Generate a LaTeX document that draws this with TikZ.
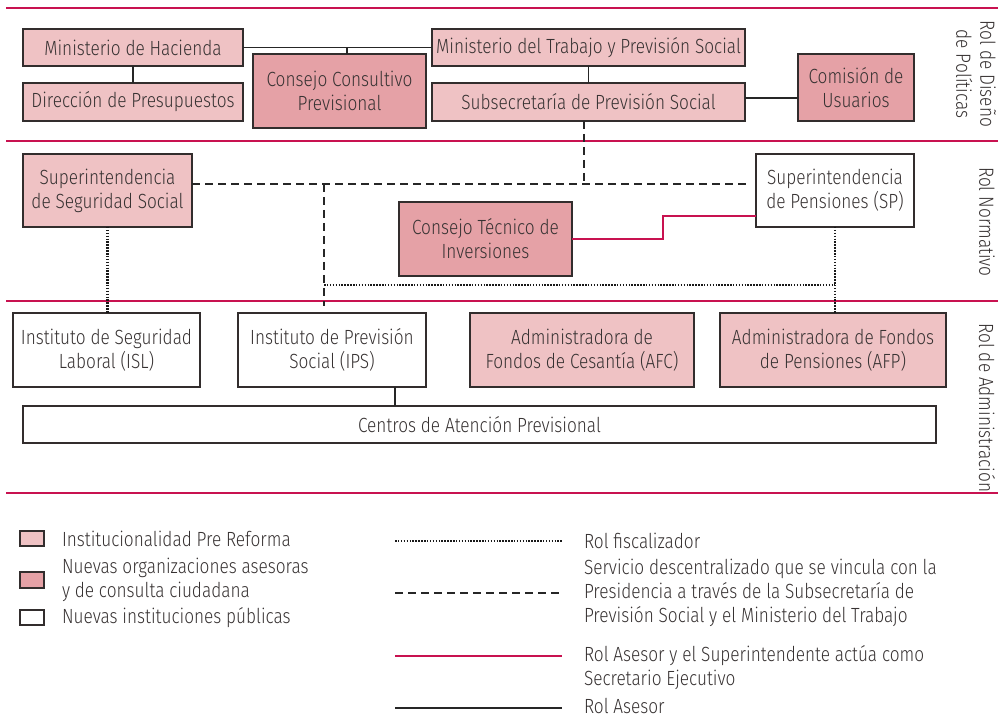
\documentclass[tikz,border=0pt]{standalone}
\usepackage{fontspec}
\setmainfont{Fira Sans}[UprightFont=* Light, FakeStretch=0.84]
\usepackage{tikz}
\usetikzlibrary{positioning}

\definecolor{rolred}{RGB}{200,18,80}
\definecolor{prefill}{RGB}{239,194,196}
\definecolor{newfill}{RGB}{229,161,166}
\definecolor{boxline}{RGB}{50,45,45}
\definecolor{textgray}{RGB}{55,50,50}

\begin{document}
\begin{tikzpicture}[x=1pt, y=-1pt,
	every node/.style={font=\fontsize{20.5}{24}\selectfont, text=textgray, inner sep=0pt, outer sep=0pt},
	orgbox/.style={draw=boxline, line width=1.1pt, align=center},
	prebox/.style={orgbox, fill=prefill},
	newbox/.style={orgbox, fill=newfill},
	pubbox/.style={orgbox, fill=white},
	solidline/.style={draw=black!85, line width=1.6pt},
	dashline/.style={draw=black!85, line width=1.6pt, dash pattern=on 8pt off 5pt},
	dotline/.style={draw=black!90, line width=2.6pt, dash pattern=on 1.5pt off 1.4pt},
	redline/.style={draw=rolred, line width=1.8pt},
	sepline/.style={draw=rolred, line width=2pt}]
	
	\useasboundingbox (0,0) rectangle (1004,719);
	
	\foreach \y in {8,141,301,493}
		\draw[sepline] (6,\y) -- (998,\y);
	
	\begin{scope}
		\node[prebox, minimum width=220pt, minimum height=37pt] (hac) at (133,47.5) {Ministerio de Hacienda};
		\node[prebox, minimum width=220pt, minimum height=38pt] (dip) at (133,102) {Dirección de Presupuestos};
		\node[newbox, minimum width=173pt, minimum height=74pt] (ccp) at (339.5,91) {Consejo Consultivo\\Previsional};
		\node[prebox, minimum width=313pt, minimum height=37pt] (mtp) at (588.5,47.5) {Ministerio del Trabajo y Previsión Social};
		\node[prebox, minimum width=313pt, minimum height=38pt] (ssp) at (588.5,102) {Subsecretaría de Previsión Social};
		\node[newbox, minimum width=116pt, minimum height=67pt] (cdu) at (856,87.5) {Comisión de\\Usuarios};
	\end{scope}
	
	\begin{scope}
		\node[prebox, minimum width=169pt, minimum height=73pt] (suseso) at (107.5,190.5) {Superintendencia\\de Seguridad Social};
		\node[pubbox, minimum width=158pt, minimum height=73pt] (sp) at (835,190.5) {Superintendencia\\de Pensiones (SP)};
		\node[newbox, minimum width=173pt, minimum height=74pt] (cti) at (485.5,239) {Consejo Técnico de\\Inversiones};
	\end{scope}
	
	\begin{scope}
		\node[pubbox, minimum width=187pt, minimum height=74pt] (isl) at (106.5,350) {Instituto de Seguridad\\Laboral (ISL)};
		\node[pubbox, minimum width=188pt, minimum height=74pt] (ips) at (332,350) {Instituto de Previsión\\Social (IPS)};
		\node[prebox, minimum width=224pt, minimum height=74pt] (afc) at (582,350) {Administradora de\\Fondos de Cesantía (AFC)};
		\node[prebox, minimum width=226pt, minimum height=74pt] (afp) at (833,350) {Administradora de Fondos\\de Pensiones (AFP)};
		\node[pubbox, minimum width=913pt, minimum height=37pt] (cap) at (479.5,424.5) {Centros de Atención Previsional};
	\end{scope}
	
	\begin{scope}
		\node[rotate=-90, align=center] (rdp) at (976,74) {Rol de Diseño\\de Políticas};
		\node[rotate=-90] (rno) at (987,222) {Rol Normativo};
		\node[rotate=-90] (rad) at (987,408) {Rol de Administración};
	\end{scope}
	
	\coordinate (hacmtp) at (347,47.5);
	\coordinate (cduin) at (798,98);
	\coordinate (ipsout) at (395,387);
	\coordinate (sspout) at (584,121);
	\coordinate (dashL) at ([yshift=6.5pt]suseso.east);
	\coordinate (dashR) at ([xshift=-6pt,yshift=6.5pt]sp.west);
	\coordinate (dashIPS) at (324,184);
	\coordinate (dotL) at (324,285);
	
	\begin{scope}[solidline]
		\draw (hac.east) -- (mtp.west);
		\draw (hacmtp) -- (hacmtp |- ccp.north);
		\draw (hac.south) -- (dip.north);
		\draw (mtp.south) -- (ssp.north);
		\draw (cduin -| ssp.east) -- (cduin);
		\draw (ipsout) -- (ipsout |- cap.north);
	\end{scope}
	
	\begin{scope}[dashline]
		\draw (dashL) -- (dashR);
		\draw (sspout) -- (sspout |- dashL);
		\draw[shorten >=7pt] (dashIPS) -- (dashIPS |- ips.north);
	\end{scope}
	
	\begin{scope}[dotline]
		\draw (suseso.south) -- (suseso.south |- isl.north);
		\draw (sp.south) -- (sp.south |- afp.north);
		\draw (dotL) -- (dotL -| sp.south);
	\end{scope}
	
	\draw[redline] (cti.east) -- ++(91,0) |- ([yshift=-25.5pt]sp.west);
	
	\begin{scope}
		\node[prebox, minimum width=24pt, minimum height=15pt] (lpre) at (32,538.5) {};
		\node[right=18pt of lpre, align=left] (lpretxt) {Institucionalidad Pre Reforma};
		\node[newbox, minimum width=24pt, minimum height=16pt] (lnew) at (32,580) {};
		\node[right=18pt of lnew, align=left] (lnewtxt) {Nuevas organizaciones asesoras\\y de consulta ciudadana};
		\node[pubbox, minimum width=24pt, minimum height=15pt] (lpub) at (32,617.5) {};
		\node[right=18pt of lpub, align=left] (lpubtxt) {Nuevas instituciones públicas};
	\end{scope}
	
	\foreach \y/\sty in {541/dotline, 593/dashline, 656/redline, 708/solidline}
		\draw[\sty] (395,\y) -- (562,\y);
	
	\begin{scope}
		\node[anchor=west, align=left] (lfis) at (584,541) {Rol fiscalizador};
		\node[anchor=west, align=left] (lser) at (584,593) {Servicio descentralizado que se vincula con la\\Presidencia a través de la Subsecretaría de\\Previsión Social y el Ministerio del Trabajo};
		\node[anchor=west, align=left] (lrol) at (584,668) {Rol Asesor y el Superintendente actúa como\\Secretario Ejecutivo};
		\node[anchor=west] (lase) at (584,706) {Rol Asesor};
	\end{scope}
\end{tikzpicture}
\end{document}
